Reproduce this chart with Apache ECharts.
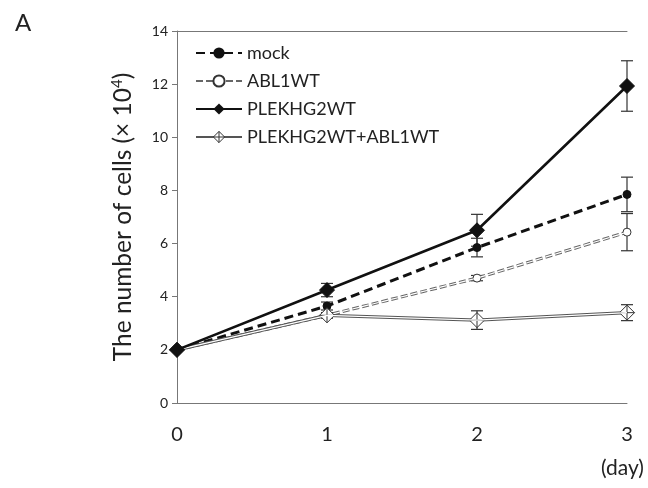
<!DOCTYPE html>
<html lang="en">
<head>
<meta charset="utf-8">
<script src="https://cdn.jsdelivr.net/npm/echarts@6/dist/echarts.min.js"></script>
<style>
  * { margin: 0; padding: 0; }
  body { background: #fff; }
</style>
</head>
<body>
<div id="main" style="width:648px;height:488px;"></div>
<script>
// days and cell counts (x 10^4)
var days = [0, 1, 2, 3];
var mock = [2.0, 3.65, 5.85, 7.85];
var mockErr = [0, 0.15, 0.35, 0.65];
var abl1 = [2.0, 3.3, 4.7, 6.43];
var abl1Err = [0, 0.1, 0.1, 0.7];
var plek = [2.0, 4.25, 6.5, 11.93];
var plekErr = [0, 0.25, 0.6, 0.95];
var both = [2.0, 3.3, 3.12, 3.4];
var bothErr = [0, 0.1, 0.35, 0.3];

function pts(vals) {
    return days.map(function (d, i) { return [d, vals[i]]; });
}
function errData(vals, errs) {
    var out = [];
    days.forEach(function (d, i) {
        if (errs[i] > 0) out.push([d, vals[i] - errs[i], vals[i] + errs[i]]);
    });
    return out;
}
function errSeries(vals, errs) {
    return {
        type: 'custom',
        data: errData(vals, errs),
        silent: true,
        z: 1,
        renderItem: function (params, api) {
            var lo = api.coord([api.value(0), api.value(1)]);
            var hi = api.coord([api.value(0), api.value(2)]);
            var w = 6;
            var st = { stroke: '#333', lineWidth: 1.2 };
            return {
                type: 'group',
                children: [
                    { type: 'line', shape: { x1: lo[0], y1: lo[1], x2: hi[0], y2: hi[1] }, style: st },
                    { type: 'line', shape: { x1: lo[0] - w, y1: lo[1], x2: lo[0] + w, y2: lo[1] }, style: st },
                    { type: 'line', shape: { x1: hi[0] - w, y1: hi[1], x2: hi[0] + w, y2: hi[1] }, style: st }
                ]
            };
        }
    };
}

var chart = echarts.init(document.getElementById('main'));
var font = 'Lato, "Open Sans", sans-serif';
var diamondX = 'path://M0,-10L10,0L0,10L-10,0Z M-10,0L10,0 M0,-10L0,10';

var option = {
    animation: false,
    textStyle: { fontFamily: font },
    grid: { left: 177, right: 21, top: 31, bottom: 85 },
    title: [
        { text: 'A', left: 10, top: 6, textStyle: { fontSize: 24, fontWeight: 'normal', color: '#222', fontFamily: font } },
        { text: '(day)', left: 596, top: 453, textStyle: { fontSize: 21, fontWeight: 'normal', color: '#222', fontFamily: font } }
    ],
    legend: {
        left: 190, top: 39, orient: 'vertical', itemGap: 10,
        itemWidth: 46, itemHeight: 14,
        textStyle: { fontSize: 18, color: '#222', fontFamily: font },
        data: [
            { name: 'mock' },
            { name: 'ABL1WT' },
            { name: 'PLEKHG2WT' },
            { name: 'PLEKHG2WT+ABL1WT', itemStyle: { color: '#fff', borderColor: '#333', borderWidth: 1 } }
        ]
    },
    xAxis: [{
        type: 'value', min: 0, max: 3, interval: 1,
        axisLine: { lineStyle: { color: '#777', width: 1 } },
        axisTick: { show: false },
        splitLine: { show: false },
        axisLabel: { fontSize: 20, color: '#222', margin: 22 }
    }, {
        type: 'value', min: 0, max: 3, position: 'top',
        axisLine: { show: true, onZero: false, lineStyle: { color: '#777', width: 1 } },
        axisTick: { show: false }, axisLabel: { show: false }, splitLine: { show: false }
    }],
    yAxis: {
        type: 'value', min: 0, max: 14, interval: 2,
        axisLine: { show: true, lineStyle: { color: '#777', width: 1 } },
        axisTick: { show: true, inside: false, length: 5, lineStyle: { color: '#777' } },
        splitLine: { show: false },
        axisLabel: { fontSize: 14, color: '#222', margin: 9 },
        name: '{a|The number of cells (× 10}{s|4}{a|)}',
        nameLocation: 'middle', nameGap: 40, nameRotate: 90,
        nameTextStyle: {
            rich: {
                a: { fontSize: 24.5, color: '#222', fontFamily: font },
                s: { fontSize: 15, color: '#222', fontFamily: font, verticalAlign: 'top', padding: [0, 0, 12, 0] }
            }
        }
    },
    series: [
        errSeries(mock, mockErr),
        errSeries(abl1, abl1Err),
        errSeries(plek, plekErr),
        errSeries(both, bothErr),
        // ABL1WT: hollow dashed line (gray outline + white inner)
        {
            name: 'ABL1WT', type: 'line', data: pts(abl1), z: 2,
            symbol: 'circle', symbolSize: 8,
            itemStyle: { color: '#fff', borderColor: '#333', borderWidth: 1 },
            lineStyle: { color: '#666', width: 3.2, type: [7, 3] }
        },
        {
            name: 'abl1-inner', type: 'line', data: pts(abl1), z: 3, symbol: 'none', silent: true,
            lineStyle: { color: '#fff', width: 1.2, type: [7, 3] }
        },
        {
            name: 'mock', type: 'line', data: pts(mock), z: 4,
            symbol: 'circle', symbolSize: 8,
            itemStyle: { color: '#111', borderColor: '#111' },
            lineStyle: { color: '#111', width: 3, type: [9, 5] }
        },
        // PLEKHG2WT+ABL1WT: double line
        {
            name: 'PLEKHG2WT+ABL1WT', type: 'line', data: pts(both), z: 5,
            symbol: diamondX, symbolSize: 15,
            itemStyle: { color: '#fff', borderColor: '#333', borderWidth: 1 },
            lineStyle: { color: '#555', width: 3.2 }
        },
        {
            name: 'both-inner', type: 'line', data: pts(both), z: 6, symbol: 'none', silent: true,
            lineStyle: { color: '#fff', width: 1.2 }
        },
        {
            name: 'PLEKHG2WT', type: 'line', data: pts(plek), z: 7,
            symbol: 'diamond', symbolSize: 15,
            itemStyle: { color: '#111', borderColor: '#111' },
            lineStyle: { color: '#111', width: 2.6 }
        }
    ]
};
chart.setOption(option);
</script>
</body>
</html>
